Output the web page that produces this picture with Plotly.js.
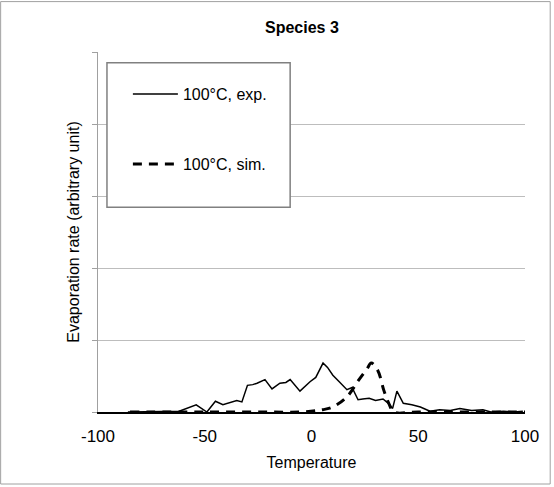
<!DOCTYPE html>
<html>
<head>
<script src="https://cdn.plot.ly/plotly-3.0.1.min.js"></script>
<style>body{margin:0;background:#fff;}</style>
</head>
<body>
<div id="chart" style="width:554px;height:487px;"></div>
<script>
// measured curves (temperature vs evaporation rate)
var expX = [-86, -71, -62, -54, -49, -45, -41.5, -35, -32.6, -30, -27.5, -25.5, -23.5, -21.8, -18.5, -14.8, -12, -10, -5.4, -3, -0.7, 2, 5.4, 7.5, 10, 13, 16.6, 19, 21.8, 24, 27, 30, 33.5, 36, 38, 40, 43, 47, 51, 55.5, 60, 65, 69.5, 75, 80.3, 84, 90, 95, 99];
var expY = [0, 0.01, 0.01, 0.1, 0, 0.15, 0.1, 0.16, 0.14, 0.37, 0.38, 0.40, 0.43, 0.45, 0.32, 0.40, 0.41, 0.45, 0.29, 0.36, 0.42, 0.48, 0.68, 0.62, 0.51, 0.42, 0.31, 0.34, 0.17, 0.18, 0.19, 0.16, 0.18, 0.12, 0.05, 0.29, 0.12, 0.10, 0.07, 0.01, 0.03, 0.02, 0.05, 0.02, 0.03, 0, 0.01, 0, 0.01];
var simX = [-85, -50, -20, -5, 5, 10, 16.6, 22, 26, 28, 31, 34, 36.5, 38.5, 50, 100];
var simY = [0, 0, 0, 0, 0.03, 0.07, 0.21, 0.44, 0.6, 0.68, 0.58, 0.29, 0.1, 0, 0, 0];
var xTicks = [-100, -50, 0, 50, 100];
var xTickText = ['-100', '-50', '0', '50', '100'];

var font = {family: 'Liberation Sans, Arial, sans-serif', size: 17, color: '#000'};

var data = [
  {x: expX, y: expY, mode: 'lines', name: '100°C, exp.', legendgroup: 'a',
   line: {color: '#000', width: 1.5}},
  {x: simX, y: simY, mode: 'lines', name: '100°C, sim.', legendgroup: 'b',
   line: {color: '#000', width: 3, dash: '9px,7px', shape: 'spline'}}
];

var layout = {
  width: 554, height: 487,
  margin: {l: 98, r: 29, t: 52, b: 75},
  paper_bgcolor: '#fff', plot_bgcolor: '#fff',
  font: font,
  showlegend: true,
  title: {text: '<b>Species 3</b>', font: {size: 16, color: '#000'}, x: 0.545, xanchor: 'center', y: 0.955},
  xaxis: {range: [-100, 100], tickvals: xTicks, ticktext: xTickText, showgrid: false, zeroline: false,
    showline: true, linecolor: '#000', linewidth: 1.5, ticks: 'outside', ticklen: 8, tickcolor: 'rgba(0,0,0,0)',
    title: {text: 'Temperature', font: {size: 16}, standoff: 12}},
  yaxis: {range: [0, 5], dtick: 1, showticklabels: false, showgrid: true,
    gridcolor: '#bdbdbd', gridwidth: 1, zeroline: false,
    showline: true, linecolor: '#a0a0a0', ticks: 'outside', ticklen: 5, tickcolor: '#a0a0a0',
    title: {text: 'Evaporation rate (arbitrary unit)', font: {size: 16}, standoff: 8}},
  legend: {x: 0.07, y: 0.93, xanchor: 'left', yanchor: 'top', bgcolor: 'rgba(0,0,0,0)',
    borderwidth: 0, tracegroupgap: 46, itemwidth: 45, font: {size: 16}},
  shapes: [
    {type: 'rect', xref: 'paper', yref: 'paper', x0: 0.021, x1: 0.45, y0: 0.569, y1: 0.97,
     line: {color: '#808080', width: 1.5}, fillcolor: '#fff', layer: 'above'},
    {type: 'rect', xref: 'paper', yref: 'paper', x0: -0.228, x1: 1.059, y0: -0.2, y1: 1.14,
     line: {color: '#a0a0a0', width: 1}}
  ]
};

Plotly.newPlot('chart', data, layout, {displayModeBar: false});
</script>
</body>
</html>
